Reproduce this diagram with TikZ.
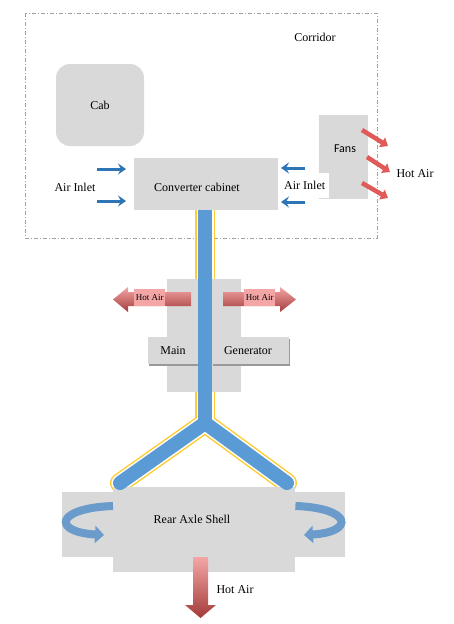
\documentclass[tikz,border=0pt]{standalone}
\usepackage{fontspec}
\setmainfont{Liberation Serif}
\newfontfamily\fansfont{Carlito}
\usetikzlibrary{arrows.meta,shadows,positioning}
\definecolor{boxgray}{HTML}{D9D9D9}
\definecolor{pipeblue}{HTML}{5B9BD5}
\definecolor{pipeyellow}{HTML}{FFCC33}
\definecolor{inletblue}{HTML}{2E75B6}
\definecolor{hotred}{HTML}{E05A5A}
\definecolor{hotpink}{HTML}{F4A6A6}
\definecolor{hotdark}{HTML}{A33B3A}
\definecolor{swirlblue}{HTML}{6A9BCB}
\definecolor{framegray}{HTML}{A0A0A0}

\begin{document}
\begin{tikzpicture} [
    x = 1pt, y = -1pt,
    font = \fontsize{12}{14}\selectfont,
    box/.style = { fill = boxgray, draw = none, inner sep = 0, anchor = north west },
    shadowbox/.style = { box, drop shadow={shadow xshift=1pt,shadow yshift=-2pt,fill=gray!80,opacity=1} },
    inlet/.style = { inletblue, line width = 3pt, -{Stealth[length = 8pt, width = 11pt, inset = 3pt]} },
    fanair/.style = { hotred, line width = 4.5pt, -{Triangle[length = 7pt, width = 11pt]} },
    swirl/.style = { swirlblue, line width = 8pt, -{Triangle[length = 9pt, width = 17pt]} },
    hotair/.style = { top color = hotpink, bottom color = hotdark, draw = none },
    tag/.style = { fill = hotpink, inner sep = 0, minimum width = 31pt, minimum height = 17pt, font = \fontsize{9}{10}\selectfont }
    ]

    \useasboundingbox (0,0) rectangle (454,624);

    \draw [framegray, dash pattern = on 4pt off 2pt on 1pt off 2pt] (25,13) rectangle (377,238);
    \node (corridor) at (315,37) {Corridor};

    \node [box, anchor = center, rounded corners = 14pt, minimum width = 88pt, minimum height = 82pt] (cab) at (100,105) {Cab};

    % pipe outline
    \coordinate (pipetop) at (205,210);
    \coordinate (fork) at (205,423);
    \coordinate (leftend) at (120,483);
    \coordinate (rightend) at (287,483);
    \foreach \w/\c in {20/pipeyellow, 17/white} {
      \draw [\c, line width = \w pt] (pipetop) -- (fork);
      \draw [\c, line width = \w pt, line cap = round, line join = round] (leftend) -- (fork) -- (rightend);
    }

    \node [box, minimum width = 144pt, minimum height = 52pt] (cabinet) at (134,158) {};
    \node [box, minimum width = 49pt, minimum height = 84pt] (fans) at (319,115) {};
    \node [box, minimum width = 74pt, minimum height = 113pt] (maingen) at (167,279) {};
    \node [shadowbox, minimum width = 50pt, minimum height = 27pt] (main) at (148,337) {};
    \node [shadowbox, minimum width = 77pt, minimum height = 27pt] (generator) at (212,337) {};
    \node [box, minimum width = 283pt, minimum height = 65pt] (axlewide) at (62,492) {};
    \node [box, minimum width = 182pt, minimum height = 85pt] (axle) at (113,487) {};

    % pipe
    \draw [pipeblue, line width = 14pt] (pipetop) -- (fork);
    \draw [pipeblue, line width = 14pt, line cap = round, line join = round] (leftend) -- (fork) -- (rightend);

    \node (cabinettext) at (197,187) {Converter cabinet};
    \node [font = \fansfont\fontsize{12}{14}\selectfont] (fanstext) at (345,149) {Fans};
    \node (maintext) at (173,351) {Main};
    \node (generatortext) at (248,351) {Generator};
    \node (axletext) at (192,519) {Rear Axle Shell};

    % air inlets
    \node (inletleft) at (75,187) {Air Inlet};
    \node [fill = white, inner sep = 0, minimum width = 49pt, minimum height = 25pt, anchor = north west] (inletright) at (280,173) {Air Inlet};
    \coordinate (la1) at (97,169);
    \coordinate (la2) at (97,201);
    \coordinate (ra1) at (305,168);
    \coordinate (ra2) at (305,202);
    \draw [inlet] (la1) -- ++(29,0);
    \draw [inlet] (la2) -- ++(29,0);
    \draw [inlet] (ra1) -- ++(-24,0);
    \draw [inlet] (ra2) -- ++(-24,0);

    % hot air
    \node (fanhot) at (415,174) {Hot Air};
    \coordinate (fa1) at (362,130);
    \coordinate (fa2) at (367,157);
    \coordinate (fa3) at (362,183);
    \draw [fanair] (fa1) -- (388,146);
    \draw [fanair] (fa2) -- (390,172);
    \draw [fanair] (fa3) -- (388,198);

    \shade [hotair] (191,292) -- (128,292) -- (128,287) -- (113,299.5) -- (128,312) -- (128,306) -- (191,306) -- cycle;
    \shade [hotair] (223,292) -- (280,292) -- (280,287) -- (296,299.5) -- (280,312) -- (280,306) -- (223,306) -- cycle;
    \node [tag, anchor = north west] (hotleft) at (134,289) {Hot Air};
    \node [tag, anchor = north west] (hotright) at (244,289) {Hot Air};

    \draw [swirl] (axle.west |- 0,506) .. controls (55,508) and (52,532) .. (104,535);
    \draw [swirl] (axle.east |- 0,506) .. controls (352,508) and (355,532) .. (304,535);

    \shade [hotair] (193,557) -- (208,557) -- (208,605) -- (216,605) -- (200.5,618) -- (185,605) -- (193,605) -- cycle;
    \node (axlehot) at (235,590) {Hot Air};
  \end{tikzpicture}
\end{document}
